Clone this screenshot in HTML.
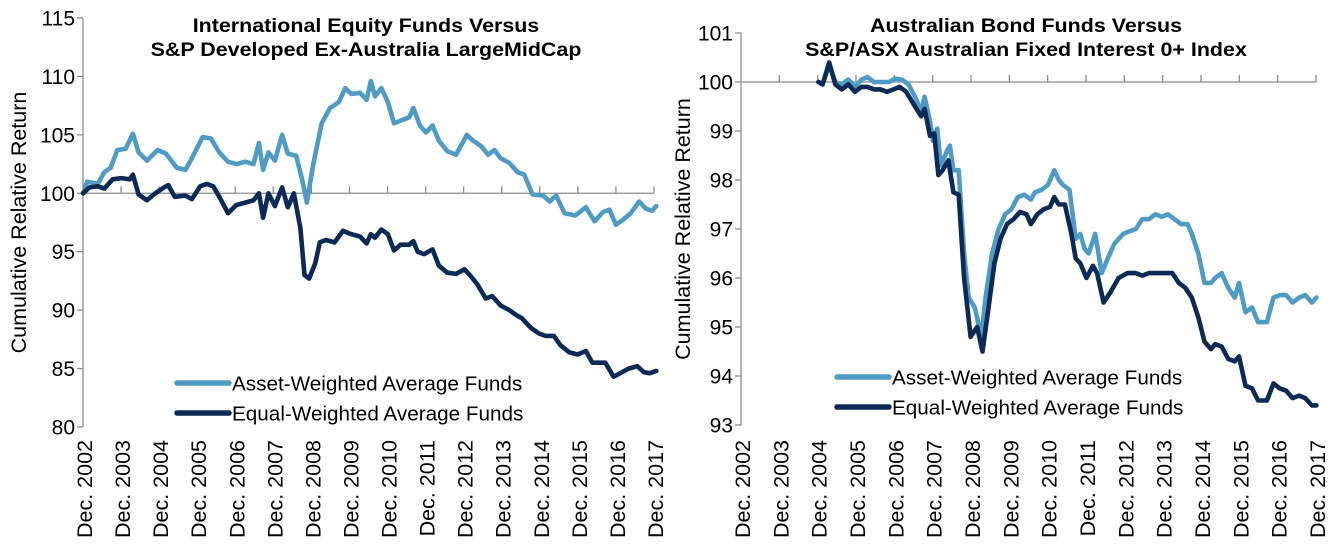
<!DOCTYPE html>
<html><head><meta charset="utf-8"><style>
html,body{margin:0;padding:0;background:#fff;}
svg{display:block;font-family:"Liberation Sans",Arial,sans-serif;}
</style></head><body>
<svg id="c" width="1344" height="546" viewBox="0 0 1344 546"></svg>
<script>
// ---- Data: time in years since Dec. 2002 ----
const yearLabels = ["Dec. 2002","Dec. 2003","Dec. 2004","Dec. 2005","Dec. 2006","Dec. 2007","Dec. 2008","Dec. 2009","Dec. 2010","Dec. 2011","Dec. 2012","Dec. 2013","Dec. 2014","Dec. 2015","Dec. 2016","Dec. 2017"];
const leftTicks = [80,85,90,95,100,105,110,115];
const rightTicks = [93,94,95,96,97,98,99,100,101];

const eqAssetT = [0,.11,.39,.56,.73,.90,1.12,1.31,1.46,1.68,1.96,2.18,2.46,2.69,2.86,3.14,3.36,3.58,3.81,4.03,4.26,4.48,4.62,4.73,4.87,5.04,5.23,5.38,5.60,5.77,5.88,6.05,6.27,6.49,6.72,6.89,7.05,7.28,7.45,7.56,7.67,7.84,8.01,8.17,8.40,8.57,8.68,8.85,9.01,9.18,9.35,9.57,9.80,9.97,10.08,10.25,10.47,10.64,10.81,10.97,11.20,11.42,11.59,11.81,12.09,12.26,12.43,12.65,12.93,13.21,13.44,13.66,13.83,14.00,14.17,14.39,14.61,14.78,14.95,15.06];
const eqAssetV = [100,101,100.8,101.8,102.2,103.7,103.8,105.1,103.5,102.8,103.7,103.4,102.2,102,103,104.8,104.7,103.5,102.7,102.5,102.7,102.5,104.3,102,103.5,102.8,105,103.4,103.2,101,99.2,102.5,106,107.3,107.8,109,108.5,108.6,108,109.6,108.3,109,107.8,106,106.3,106.5,107.3,105.8,105.2,105.8,104.5,103.6,103.3,104.3,105,104.5,104,103.3,103.7,103,102.6,101.8,101.6,99.9,99.8,99.3,99.8,98.3,98.1,98.8,97.6,98.4,98.6,97.3,97.7,98.3,99.3,98.7,98.5,98.9];
const eqEqualT = [0,.17,.39,.56,.78,1.01,1.23,1.31,1.46,1.68,1.90,2.13,2.24,2.41,2.69,2.86,3.08,3.25,3.42,3.58,3.81,4.03,4.26,4.48,4.62,4.73,4.87,5.04,5.23,5.38,5.54,5.71,5.82,5.94,6.10,6.22,6.38,6.61,6.83,7.05,7.28,7.45,7.56,7.67,7.84,8.01,8.17,8.34,8.57,8.68,8.79,8.96,9.18,9.35,9.57,9.80,10.02,10.19,10.36,10.58,10.75,10.97,11.20,11.37,11.53,11.76,11.98,12.15,12.37,12.54,12.77,12.99,13.21,13.38,13.55,13.72,13.94,14.11,14.33,14.56,14.73,14.89,15.06];
const eqEqualV = [100,100.5,100.6,100.4,101.2,101.3,101.2,101.6,99.9,99.4,100,100.5,100.7,99.7,99.8,99.5,100.6,100.8,100.6,99.7,98.3,99,99.2,99.4,100,97.9,100,98.9,100.5,98.8,100,97,93,92.7,94,95.8,96,95.8,96.8,96.5,96.3,95.7,96.5,96.2,96.9,96.5,95.1,95.6,95.6,95.9,95,94.8,95.2,93.8,93.2,93.1,93.5,92.9,92.2,91,91.2,90.4,90,89.6,89.3,88.5,88,87.8,87.8,87,86.4,86.2,86.5,85.5,85.5,85.5,84.3,84.6,85,85.2,84.7,84.6,84.8];

const bdAssetT = [2.02,2.13,2.30,2.46,2.63,2.80,2.97,3.14,3.30,3.47,3.64,3.86,4.03,4.20,4.37,4.54,4.70,4.79,4.93,5.01,5.12,5.21,5.38,5.45,5.54,5.68,5.82,5.94,6.10,6.27,6.38,6.55,6.72,6.89,7.05,7.22,7.39,7.56,7.67,7.84,8.01,8.17,8.29,8.40,8.57,8.73,8.85,8.96,9.07,9.24,9.41,9.57,9.74,9.97,10.13,10.30,10.47,10.64,10.81,10.97,11.14,11.31,11.48,11.65,11.76,11.93,12.09,12.26,12.37,12.54,12.71,12.88,12.99,13.16,13.33,13.49,13.72,13.89,14.05,14.22,14.39,14.56,14.72,14.89,15.01];
const bdAssetV = [100,99.95,100.35,100,99.95,100.05,99.9,100.05,100.1,100,100,100,100.07,100.05,99.95,99.7,99.4,99.7,99.2,98.8,99.05,98.3,98.6,98.7,98.2,98.2,96.5,95.6,95.4,94.8,95.6,96.5,97,97.3,97.4,97.65,97.7,97.6,97.75,97.8,97.9,98.2,98,97.9,97.8,96.8,96.9,96.6,96.5,96.9,96.1,96.4,96.7,96.9,96.95,97,97.2,97.2,97.3,97.25,97.3,97.2,97.1,97.1,96.9,96.5,95.9,95.9,96,96.1,95.8,95.6,95.9,95.3,95.4,95.1,95.1,95.6,95.65,95.65,95.5,95.6,95.65,95.5,95.6];
const bdEqualT = [2.02,2.13,2.30,2.46,2.63,2.80,2.97,3.14,3.30,3.47,3.64,3.81,3.98,4.14,4.31,4.54,4.70,4.79,4.93,5.04,5.15,5.26,5.41,5.54,5.68,5.82,5.99,6.16,6.30,6.44,6.61,6.77,6.94,7.11,7.28,7.45,7.56,7.73,7.89,8.06,8.17,8.29,8.45,8.62,8.73,8.85,9.01,9.18,9.29,9.46,9.63,9.85,10.08,10.30,10.47,10.64,10.81,11.03,11.25,11.42,11.59,11.76,11.93,12.09,12.26,12.37,12.54,12.71,12.88,12.99,13.16,13.33,13.49,13.72,13.89,14.05,14.22,14.39,14.56,14.72,14.89,15.01];
const bdEqualV = [100,99.95,100.4,99.95,99.85,99.95,99.8,99.9,99.9,99.85,99.85,99.8,99.85,99.9,99.8,99.5,99.3,99.45,98.9,98.95,98.1,98.2,98.4,97.75,97.7,96,94.8,95,94.5,95.3,96.3,96.8,97.1,97.2,97.35,97.3,97.1,97.3,97.4,97.45,97.65,97.5,97.5,96.9,96.4,96.3,96,96.25,96.1,95.5,95.7,96,96.1,96.1,96.05,96.1,96.1,96.1,96.1,95.9,95.8,95.6,95.2,94.7,94.55,94.65,94.6,94.35,94.3,94.4,93.8,93.75,93.5,93.5,93.85,93.75,93.7,93.55,93.6,93.55,93.4,93.4];

const NS="http://www.w3.org/2000/svg";
const svg=document.getElementById('c');
function el(tag,attrs,parent,text){const e=document.createElementNS(NS,tag);for(const k in attrs)e.setAttribute(k,attrs[k]);if(text!==undefined)e.textContent=text;(parent||svg).appendChild(e);return e;}
const AC="#4f9bc4", EC="#0c2a55", GR="#8c8c8c";

function chart(cfg){
  const g=el('g',{});
  
  
  const xs=t=>cfg.x0+t*(cfg.x1-cfg.x0)/15;
  const ys=v=>cfg.yTop+(cfg.vMax-v)*(cfg.yBot-cfg.yTop)/(cfg.vMax-cfg.vMin);
  const ya=el('line',{x1:cfg.x0,y1:ys(cfg.vMax),x2:cfg.x0,y2:ys(cfg.vMin),stroke:GR,'stroke-width':1.3},g);
  
  
  cfg.ticks.forEach(v=>{
    const t=el('line',{x1:cfg.x0-6,y1:ys(v),x2:cfg.x0,y2:ys(v),stroke:GR,'stroke-width':1.3},g);
    
    
    const l=el('text',{x:cfg.x0-8,y:ys(v)+7.5,'text-anchor':'end','font-size':21},g,String(v));
    
    
  });
  const bl=el('line',{x1:cfg.x0,y1:ys(100),x2:xs(15),y2:ys(100),stroke:GR,'stroke-width':1.3},g);
  
  
  yearLabels.forEach((lab,i)=>{
    const x=xs(i);
    if(i>0){
      const t=el('line',{x1:x,y1:ys(100)-7,x2:x,y2:ys(100),stroke:GR,'stroke-width':1.3},g);
      
      
    }
    const tx=el('text',{x:0,y:0,'text-anchor':'end','font-size':21.5,transform:`translate(${x+9},${cfg.labTop}) rotate(-90)`},g,lab);
    
    
  });
  const at=el('text',{x:0,y:0,'text-anchor':'middle','font-size':21.5,transform:`translate(${cfg.titleX},${(ys(cfg.vMax)+ys(cfg.vMin))/2}) rotate(-90)`},g,'Cumulative Relative Return');
  
  
  cfg.title.forEach((line,i)=>{
    const tt=el('text',{x:0,y:0,'text-anchor':'middle','font-size':19.5,'font-weight':'bold',transform:`translate(${cfg.tcx},${32+i*24}) scale(1.10,1)`},g,line);
    
    
  });
  const mk=(T,V,col,name)=>{
    const d=T.map((t,i)=>(i?'L':'M')+xs(t).toFixed(1)+','+ys(V[i]).toFixed(1)).join('');
    const p=el('path',{d:d,fill:'none',stroke:col,'stroke-width':4.6,'stroke-linejoin':'round','stroke-linecap':'round'},g);
    
    
  };
  mk(cfg.aT,cfg.aV,AC,'asset-weighted-line');
  mk(cfg.eT,cfg.eV,EC,'equal-weighted-line');
  [[AC,'Asset-Weighted Average Funds'],[EC,'Equal-Weighted Average Funds']].forEach((it,i)=>{
    const y=cfg.legY+i*30;
    const ln=el('line',{x1:cfg.legX,y1:y,x2:cfg.legX+52,y2:y,stroke:it[0],'stroke-width':5.5,'stroke-linecap':'round'},g);
    
    
    const tx=el('text',{x:cfg.legX+55,y:y+7.5,'font-size':20.7},g,it[1]);
    
    
  });
}
chart({name:'international-equity-chart',x0:83,x1:654,yTop:18,yBot:427,vMin:80,vMax:115,ticks:leftTicks,labTop:440,titleX:26,tcx:366,
  title:['International Equity Funds Versus','S&P Developed Ex-Australia LargeMidCap'],aT:eqAssetT,aV:eqAssetV,eT:eqEqualT,eV:eqEqualV,legX:177,legY:383});
chart({name:'australian-bond-chart',x0:741,x1:1316,yTop:33,yBot:425,vMin:93,vMax:101,ticks:rightTicks,labTop:440,titleX:690,tcx:1026,
  title:['Australian Bond Funds Versus','S&P/ASX Australian Fixed Interest 0+ Index'],aT:bdAssetT,aV:bdAssetV,eT:bdEqualT,eV:bdEqualV,legX:837,legY:377});
</script>
</body></html>
